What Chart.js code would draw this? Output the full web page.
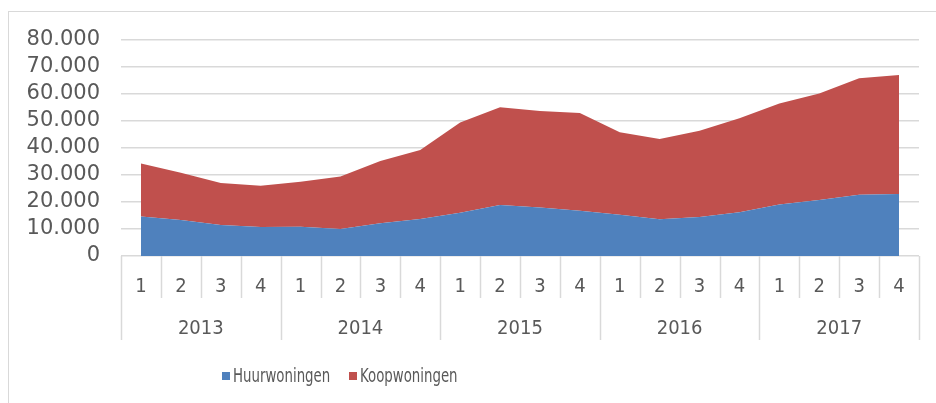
<!DOCTYPE html>
<html>
<head>
<meta charset="utf-8">
<script src="https://cdn.jsdelivr.net/npm/chart.js@4/dist/chart.umd.min.js"></script>
<style>
    html, body { margin: 0; padding: 0; background: #fff; overflow: hidden; }
    #wrap { position: relative; width: 936px; height: 403px; }
    #frame { position: absolute; left: 8px; top: 11px; width: 960px; height: 420px; border: 1.5px solid #d9d9d9; box-sizing: border-box; }
    #chart { position: absolute; left: 0; top: 0; }
    .lg { position: absolute; top: 364px; font: 19px "DejaVu Sans Condensed", "Liberation Sans", sans-serif; color: #595959; white-space: nowrap; }
    .lg .box { position: absolute; left: 0; top: 8px; width: 8px; height: 8px; }
    .lg .txt { position: absolute; left: 11px; top: 0; display: inline-block; transform: scaleX(0.78); transform-origin: 0 0; }
</style>
</head>
<body>
<div id="wrap">
    <div id="frame"></div>
    <canvas id="chart" width="936" height="403"></canvas>
    <div id="legend"></div>
</div>
<script>
// quarters per year
const quarterLabels = ['1','2','3','4','1','2','3','4','1','2','3','4','1','2','3','4','1','2','3','4'];
const yearLabels = ['2013', '2014', '2015', '2016', '2017'];

// stacked area values
const huurwoningen = [14600, 13300, 11500, 10700, 10800, 10000, 12100, 13700, 16000, 18900,
                      18000, 16800, 15300, 13600, 14400, 16200, 19100, 20700, 22700, 23000];
const koopwoningen = [19700, 17500, 15500, 15300, 16700, 19400, 23100, 25600, 33400, 36200,
                      35700, 36200, 30500, 29700, 32000, 34800, 37400, 39500, 43100, 44000];

const seriesNames = ['Huurwoningen', 'Koopwoningen'];
const seriesColors = ['#4f81bd', '#c0504d'];
const legendLeft = [222, 349];

const labelColor = '#595959';
const lineColor = '#d9d9d9';
const axisFont = { family: '"DejaVu Sans Condensed", "Liberation Sans", sans-serif', size: 20 };

const fmt = v => String(v).replace(/\B(?=(\d{3})+(?!\d))/g, '.');

// draws the two-level category table under the plot
const tableLines = {
    id: 'tableLines',
    afterDraw(chart) {
        const x = chart.scales.x, x2 = chart.scales.x2;
        const ctx = chart.ctx;
        ctx.save();
        ctx.strokeStyle = lineColor;
        ctx.lineWidth = 1.5;
        for (let i = 0; i <= quarterLabels.length; i++) {
            const px = Math.round(x.getPixelForValue(i - 0.5)) + 0.5;
            ctx.beginPath();
            ctx.moveTo(px, x.top);
            ctx.lineTo(px, i % 4 === 0 ? x2.bottom : x.bottom);
            ctx.stroke();
        }
        ctx.restore();
    }
};

new Chart(document.getElementById('chart').getContext('2d'), {
    type: 'line',
    data: {
        labels: quarterLabels,
        datasets: [
            {
                label: seriesNames[0],
                data: huurwoningen,
                backgroundColor: seriesColors[0],
                borderColor: 'rgba(0,0,0,0)',
                borderWidth: 0,
                pointRadius: 0,
                fill: 'origin',
                tension: 0
            },
            {
                label: seriesNames[1],
                data: koopwoningen,
                backgroundColor: seriesColors[1],
                borderColor: 'rgba(0,0,0,0)',
                borderWidth: 0,
                pointRadius: 0,
                fill: '-1',
                tension: 0
            }
        ]
    },
    options: {
        responsive: false,
        animation: false,
        layout: { padding: { top: 40, right: 17, bottom: 63, left: 0 } },
        plugins: {
            legend: { display: false },
            tooltip: { enabled: false }
        },
        scales: {
            y: {
                stacked: true,
                min: 0,
                max: 80000,
                ticks: {
                    stepSize: 10000,
                    autoSkip: false,
                    padding: 21,
                    color: labelColor,
                    font: { family: 'DejaVu Sans', size: 21 },
                    callback: v => fmt(v)
                },
                grid: { color: lineColor, lineWidth: 1.5, drawTicks: false },
                border: { display: false },
                afterFit: s => { s.width = 121; }
            },
            x: {
                type: 'category',
                offset: true,
                weight: 0,
                grid: { display: false },
                border: { display: false },
                ticks: {
                    padding: 11,
                    maxRotation: 0,
                    autoSkip: false,
                    color: labelColor,
                    font: axisFont
                },
                afterFit: s => { s.height = 42; }
            },
            x2: {
                type: 'category',
                position: 'bottom',
                labels: yearLabels,
                offset: true,
                weight: 1,
                grid: { display: false },
                border: { display: false },
                ticks: {
                    padding: 11,
                    maxRotation: 0,
                    autoSkip: false,
                    color: labelColor,
                    font: axisFont
                },
                afterFit: s => { s.height = 42; }
            }
        }
    },
    plugins: [tableLines]
});

// legend
document.getElementById('legend').innerHTML = seriesNames.map((name, i) =>
    '<div class="lg" style="left:' + legendLeft[i] + 'px"><span class="box" style="background:' +
    seriesColors[i] + '"></span><span class="txt">' + name + '</span></div>'
).join('');
</script>
</body>
</html>
